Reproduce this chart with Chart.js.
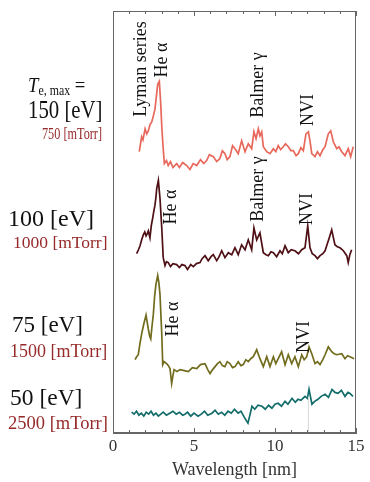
<!DOCTYPE html>
<html>
<head>
<meta charset="utf-8">
<script src="https://cdn.jsdelivr.net/npm/chart.js@4"></script>
<style>
  html, body { margin: 0; padding: 0; background: #fff; }
  #wrap { position: relative; width: 370px; height: 482px; overflow: hidden; font-family: "Liberation Serif", "DejaVu Serif", serif; }
  canvas { position: absolute; left: 0; top: 0; }
  .lbl { position: absolute; white-space: nowrap; line-height: 1; transform-origin: center center; }
  .blk { color: #111; }
  .red { color: #962a2a; }
  .rot { font-size: 18px; color: #111; }
</style>
</head>
<body>
<div id="wrap">
  <canvas id="c" width="370" height="482"></canvas>
</div>
<script>
// ---- data (wavelength in nm, intensity in arbitrary units, traces offset) ----
const redX = [1.62,1.70,1.77,1.85,1.98,2.08,2.18,2.28,2.39,2.49,2.59,2.68,2.76,2.86,2.94,3.01,3.07,3.17,3.30,3.41,3.55,3.70,3.93,4.10,4.30,4.55,4.75,4.95,5.17,5.40,5.60,5.78,5.95,6.19,6.40,6.60,6.75,6.91,7.05,7.22,7.38,7.53,7.73,7.94,8.15,8.35,8.56,8.70,8.83,8.97,9.07,9.18,9.28,9.49,9.69,9.90,10.05,10.20,10.35,10.51,10.65,10.82,10.98,11.13,11.30,11.44,11.60,11.75,11.91,12.06,12.16,12.27,12.47,12.62,12.78,12.95,13.09,13.29,13.44,13.60,13.81,13.95,14.12,14.32,14.52,14.67,14.83];
const redY = [284,292,299,296,307,302,305,311,314,320,327,340,352,355,334,310,294,272,275,270,274,268,272,268,273,270,266,272,270,276,272,275,281,279,274,277,285,282,276,279,290,287,282,295,284,292,287,304,297,307,300,304,289,284,282,287,284,290,286,289,292,289,285,285,280,282,288,285,302,304,295,282,279,284,280,286,289,302,305,294,287,289,284,280,287,279,289];

const brownX = [1.46,1.57,1.67,1.77,1.87,1.96,2.04,2.11,2.18,2.28,2.37,2.45,2.52,2.59,2.65,2.70,2.75,2.80,2.90,3.01,3.10,3.21,3.30,3.41,3.55,3.70,3.93,4.10,4.25,4.44,4.60,4.80,4.96,5.15,5.37,5.50,5.68,5.88,6.05,6.19,6.40,6.55,6.71,6.91,7.12,7.33,7.53,7.73,7.94,8.15,8.35,8.56,8.70,8.87,9.07,9.28,9.45,9.59,9.75,9.90,10.10,10.31,10.45,10.62,10.82,11.00,11.23,11.45,11.65,11.85,12.02,12.16,12.30,12.47,12.62,12.78,12.95,13.09,13.35,13.50,13.70,13.85,14.01,14.22,14.43,14.52,14.62,14.73];
const brownY = [181,185,189,195,200,203,199,201,204,197,210,217,224,230,238,247,251,255,237,207,177,169,173,172,168,171,170,167,170,169,165,170,168,171,172,176,179,174,178,180,174,178,184,177,182,180,187,180,190,185,195,185,207,195,202,182,180,179,183,182,178,184,181,189,182,185,184,181,185,187,209,187,181,179,176,179,181,184,197,205,190,188,187,184,179,172,180,185];

const oliveX = [1.36,1.46,1.56,1.66,1.77,1.90,2.04,2.11,2.18,2.26,2.33,2.41,2.49,2.57,2.65,2.76,2.83,2.90,2.96,3.01,3.07,3.15,3.31,3.42,3.52,3.62,3.70,3.77,3.95,4.14,4.40,4.65,4.90,5.17,5.40,5.68,5.85,5.99,6.15,6.30,6.45,6.60,6.75,6.91,7.05,7.22,7.38,7.53,7.73,7.90,8.04,8.20,8.35,8.50,8.66,8.87,9.07,9.28,9.49,9.69,9.90,10.05,10.20,10.41,10.62,10.82,11.03,11.23,11.44,11.65,11.80,11.96,12.10,12.27,12.47,12.62,12.78,12.95,13.09,13.29,13.50,13.65,13.81,14.12,14.32,14.48,14.63,14.88];
const oliveY = [74,77,79,90,100,110,119,112,105,98,95,108,120,138,150,159,152,140,118,100,69,72,70,68,65,50,58,64,62,64,63,62,66,65,69,70,64,60,64,67,70,72,68,67,72,70,66,67,72,68,69,74,72,75,77,84,75,67,77,67,77,70,75,82,69,79,70,77,67,79,74,77,87,80,70,72,69,74,79,87,82,80,79,80,75,78,77,75];

const tealX = [1.15,1.30,1.45,1.60,1.75,1.90,2.05,2.20,2.35,2.50,2.65,2.80,2.95,3.10,3.30,3.50,3.70,3.90,4.10,4.30,4.44,4.60,4.80,5.00,5.25,5.45,5.65,5.85,6.11,6.30,6.50,6.70,6.90,7.10,7.30,7.50,7.72,7.90,8.10,8.33,8.45,8.58,8.75,8.95,9.20,9.40,9.60,9.81,10.00,10.19,10.40,10.62,10.80,11.05,11.25,11.42,11.60,11.85,12.00,12.10,12.28,12.45,12.65,12.85,13.09,13.30,13.52,13.70,13.89,14.10,14.32,14.50,14.63,14.81];
const tealY = [21,19,22,18,20,17,21,19,22,18,20,17,19,21,18,20,22,19,21,18,19,21,17,20,17,19,22,18,20,23,19,21,18,22,20,24,20,22,16,10,18,27,24,28,27,24,28,25,29,30,27,32,29,35,31,34,33,37,35,44,29,32,34,37,39,36,44,41,40,43,37,41,40,37];

const markerX = [12.06, 12.06];
const markerY = [0, 37];

const xTicks = [0, 5, 10, 15];
const xTitle = "Wavelength [nm]";

// text labels
const leftLabels = [
  { html: '<i>T</i><span style="font-size:14px;position:relative;top:3px">e, max</span> =', x: 28, y: 85, size: 22, sx: 0.85, cls: 'blk' },
  { html: '150 [eV]', x: 28, y: 110, size: 26, sx: 0.8, cls: 'blk' },
  { html: '750 [mTorr]', x: 42, y: 133, size: 17, sx: 0.72, cls: 'red' },
  { html: '100 [eV]', x: 8, y: 218, size: 24, sx: 1.0, cls: 'blk' },
  { html: '1000 [mTorr]', x: 13, y: 243, size: 17.5, sx: 1.0, cls: 'red' },
  { html: '75 [eV]', x: 12, y: 324, size: 23, sx: 1.0, cls: 'blk' },
  { html: '1500 [mTorr]', x: 10, y: 351, size: 18, sx: 1.0, cls: 'red' },
  { html: '50 [eV]', x: 10, y: 398, size: 23.5, sx: 1.0, cls: 'blk' },
  { html: '2500 [mTorr]', x: 8, y: 423, size: 18.5, sx: 1.0, cls: 'red' }
];
const rotLabels = [
  { text: 'Lyman series', x: 140, y: 69 },
  { text: 'He α', x: 161, y: 60 },
  { text: 'Balmer γ', x: 257, y: 85 },
  { text: 'NVI', x: 307, y: 110 },
  { text: 'He α', x: 170, y: 207 },
  { text: 'Balmer γ', x: 257, y: 189 },
  { text: 'NVI', x: 306, y: 209 },
  { text: 'He α', x: 172, y: 319 },
  { text: 'NVI', x: 303, y: 337 }
];

// ---- build ----
const pts = (xs, ys) => xs.map((v, i) => ({ x: v, y: ys[i] }));
const mk = (xs, ys, color, w) => ({
  data: pts(xs, ys), borderColor: color, borderWidth: w, pointRadius: 0,
  tension: 0, fill: false
});

const frame = {
  id: 'frame',
  afterDraw(chart) {
    const { ctx, chartArea: { left, right, top, bottom }, scales: { x } } = chart;
    ctx.save();
    ctx.strokeStyle = '#666';
    ctx.lineWidth = 1;
    ctx.strokeRect(left + 0.5, top + 0.5, right - left - 1, bottom - top - 1);
    for (let v = x.min; v <= x.max; v += 1) {
      const px = Math.round(x.getPixelForValue(v)) + 0.5;
      const len = v % 5 === 0 ? 5 : 3;
      ctx.beginPath();
      ctx.moveTo(px, bottom); ctx.lineTo(px, bottom - len);
      ctx.moveTo(px, top); ctx.lineTo(px, top + len);
      ctx.stroke();
    }
    ctx.restore();
  }
};

new Chart(document.getElementById('c'), {
  type: 'line',
  data: {
    datasets: [
      mk(markerX, markerY, '#d8d8d8', 1),
      mk(redX, redY, '#e8685c', 1.7),
      mk(brownX, brownY, '#4e1015', 1.7),
      mk(oliveX, oliveY, '#716c1e', 1.7),
      mk(tealX, tealY, '#116c6a', 1.7)
    ]
  },
  options: {
    responsive: false,
    animation: false,
    devicePixelRatio: 1,
    layout: { padding: { left: 113, right: 14, top: 11, bottom: 1 } },
    plugins: { legend: { display: false }, tooltip: { enabled: false } },
    scales: {
      x: {
        type: 'linear', min: 0, max: 15,
        afterBuildTicks: (s) => { s.ticks = xTicks.map(v => ({ value: v })); },
        ticks: { font: { family: 'Liberation Serif', size: 17 }, color: '#333', padding: 3, maxRotation: 0 },
        grid: { display: false, drawTicks: false },
        border: { display: true, color: '#666' },
        title: { display: true, text: xTitle, font: { family: 'Liberation Serif', size: 18 }, color: '#333', padding: { top: 0, bottom: 0 } }
      },
      y: { type: 'linear', min: 0, max: 426, display: false }
    }
  },
  plugins: [frame]
});

// ---- text overlays ----
const wrap = document.getElementById('wrap');
leftLabels.forEach(l => {
  const d = document.createElement('div');
  d.className = 'lbl ' + l.cls;
  d.innerHTML = l.html;
  d.style.fontSize = l.size + 'px';
  d.style.left = l.x + 'px';
  d.style.top = l.y + 'px';
  d.style.transformOrigin = 'left center';
  d.style.transform = 'translateY(-50%) scaleX(' + l.sx + ')';
  wrap.appendChild(d);
});
rotLabels.forEach(l => {
  const d = document.createElement('div');
  d.className = 'lbl rot';
  d.textContent = l.text;
  d.style.left = l.x + 'px';
  d.style.top = l.y + 'px';
  d.style.transform = 'translate(-50%,-50%) rotate(-90deg)';
  wrap.appendChild(d);
});
</script>
</body>
</html>
